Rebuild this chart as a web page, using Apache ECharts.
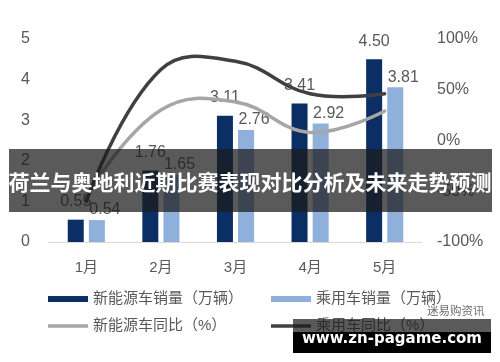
<!DOCTYPE html>
<html>
<head>
<meta charset="utf-8">
<script src="https://cdn.jsdelivr.net/npm/echarts@6/dist/echarts.min.js"></script>
<style>
html,body{margin:0;padding:0;background:#fff;}
#c{width:500px;height:362px;}
</style>
</head>
<body>
<div id="c"></div>
<script>
var categories = ['1月', '2月', '3月', '4月', '5月'];
var nevSales = [0.55, 1.76, 3.11, 3.41, 4.50];
var pvSales = [0.54, 1.65, 2.76, 2.92, 3.81];
var nevYoY = [-55, 30, 38, 8, 29];
var pvYoY = [-60, 70, 78, 46, 46];
var leftTicks = [0, 5, 1];
var rightTicks = [-100, 100, 50];

var names = ['新能源车销量（万辆）', '乘用车销量（万辆）', '新能源车同比（%）', '乘用车同比（%）'];
var txt = '#595959';
var cjk = '"Liberation Sans", "Noto Sans CJK SC", sans-serif';
var lineIcon = 'path://M0,0H40V3.5H0Z';

function curveSeries(name, values, color) {
  return {
    name: name, type: 'custom', yAxisIndex: 1, coordinateSystem: 'cartesian2d',
    data: values.map(function (v, i) { return [i, v]; }),
    itemStyle: {color: color}, z: 3, silent: true,
    renderItem: function (params, api) {
      if (params.dataIndex !== 0) return null;
      var pts = values.map(function (v, i) { return api.coord([i, v]); });
      return {
        type: 'polyline',
        shape: {points: pts, smooth: 0.42},
        style: {stroke: color, lineWidth: 3.5, fill: null, lineCap: 'round'}
      };
    }
  };
}

var chart = echarts.init(document.getElementById('c'));
chart.setOption({
  animation: false,
  backgroundColor: '#ffffff',
  textStyle: {fontFamily: cjk},
  grid: {left: 49, right: 78, top: 39, bottom: 120},
  legend: [
    {left: 43, top: 285, orient: 'vertical', itemWidth: 40, itemHeight: 6, itemGap: 9,
     textStyle: {color: txt, fontSize: 15, lineHeight: 18, fontFamily: cjk},
     data: [{name: names[0], icon: 'rect'}, {name: names[2], icon: lineIcon}]},
    {left: 266, top: 285, orient: 'vertical', itemWidth: 40, itemHeight: 6, itemGap: 9,
     textStyle: {color: txt, fontSize: 15, lineHeight: 18, fontFamily: cjk},
     data: [{name: names[1], icon: 'rect'}, {name: names[3], icon: lineIcon}]}
  ],
  xAxis: {
    type: 'category', data: categories,
    axisLine: {lineStyle: {color: '#d9d9d9', width: 1}},
    axisTick: {show: false},
    axisLabel: {color: txt, fontSize: 15, margin: 18}
  },
  yAxis: [
    {type: 'value', min: leftTicks[0], max: leftTicks[1], interval: leftTicks[2],
     splitLine: {show: false}, axisLine: {show: false}, axisTick: {show: false},
     axisLabel: {color: txt, fontSize: 16, margin: 19}},
    {type: 'value', min: rightTicks[0], max: rightTicks[1], interval: rightTicks[2],
     splitLine: {show: false}, axisLine: {show: false}, axisTick: {show: false},
     axisLabel: {color: txt, fontSize: 16, margin: 15, formatter: '{value}%'}}
  ],
  series: [
    {name: names[0], type: 'bar', data: nevSales, barWidth: 16, barGap: '32%',
     itemStyle: {color: '#0b2f64'},
     label: {show: true, position: 'top', distance: 10, color: txt, fontSize: 16,
             formatter: function (p) { return p.value.toFixed(2); }}},
    {name: names[1], type: 'bar', data: pvSales, barWidth: 16,
     itemStyle: {color: '#8fb0db'},
     label: {show: true, position: 'top', distance: 2, offset: [8, 0], color: txt, fontSize: 16,
             formatter: function (p) { return p.value.toFixed(2); }}},
    curveSeries(names[2], nevYoY, '#a6a6a6'),
    curveSeries(names[3], pvYoY, '#404040')
  ],
  graphic: [
    {type: 'rect', z: 100, shape: {x: 9, y: 149, width: 483, height: 63},
     style: {fill: 'rgba(26,26,26,0.72)'}},
    {type: 'text', z: 101, x: 250, y: 182,
     style: {text: '荷兰与奥地利近期比赛表现对比分析及未来走势预测', fill: '#ffffff',
             fontSize: 21, fontWeight: 'bold', fontFamily: '"Noto Sans CJK SC", sans-serif',
             align: 'center', verticalAlign: 'middle'}},
    {type: 'text', z: 99, x: 427, y: 311,
     style: {text: '迷易购资讯', fill: '#707070', fontSize: 11.5,
             fontFamily: '"Noto Sans CJK SC", sans-serif', align: 'left', verticalAlign: 'middle'}},
    {type: 'rect', z: 100, shape: {x: 293, y: 319, width: 198, height: 13},
     style: {fill: 'rgba(26,26,26,0.72)'}},
    {type: 'rect', z: 100, shape: {x: 293, y: 332, width: 198, height: 21},
     style: {fill: '#000000'}},
    {type: 'text', z: 101, x: 392, y: 339,
     style: {text: 'www.zn-pagame.com', fill: '#ffffff', fontSize: 15, fontWeight: 'bold',
             fontFamily: '"DejaVu Sans", sans-serif', align: 'center', verticalAlign: 'middle'}}
  ]
});
</script>
</body>
</html>
